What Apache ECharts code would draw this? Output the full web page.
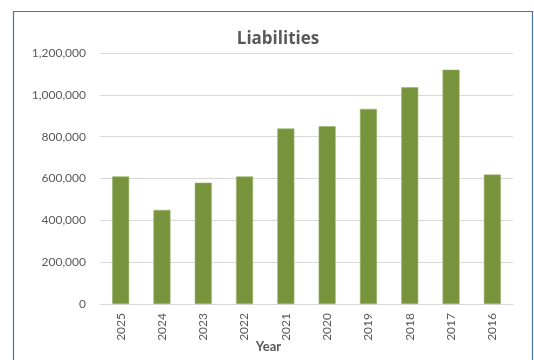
<!DOCTYPE html>
<html>
<head>
<meta charset="utf-8">
<script src="https://cdn.jsdelivr.net/npm/echarts@6/dist/echarts.min.js"></script>
<style>
  html, body { margin: 0; padding: 0; background: #fff; }
  #chart { width: 534px; height: 360px; }
</style>
</head>
<body>
<div id="chart"></div>
<script>
// Liabilities by year
const years = ['2025', '2024', '2023', '2022', '2021', '2020', '2019', '2018', '2017', '2016'];
const liabilities = [610000, 450000, 580000, 610000, 839000, 850000, 933000, 1036000, 1120000, 619000];
const yTicks = { min: 0, max: 1200000, interval: 200000 };

const chart = echarts.init(document.getElementById('chart'), null, { renderer: 'canvas' });
const font = 'Lato, "Open Sans", sans-serif';

chart.setOption({
  animation: false,
  backgroundColor: '#ffffff',
  title: {
    text: 'Liabilities',
    left: 273, top: 26, textAlign: 'center',
    textStyle: { fontFamily: '"Open Sans", sans-serif', fontSize: 17, fontWeight: 'bold', color: '#595959' }
  },
  graphic: [{
    type: 'rect',
    shape: { x: 13.5, y: 11.5, width: 519, height: 360 },
    style: { fill: 'none', stroke: '#4a6ea6', lineWidth: 1.2 },
    silent: true
  }],
  grid: { left: 100, right: 21, top: 53, bottom: 56, containLabel: false, outerBoundsMode: 'none' },
  xAxis: {
    type: 'category',
    data: years,
    name: 'Year',
    nameLocation: 'middle',
    nameGap: 36,
    nameMoveOverlap: false,
    nameTextStyle: {
      fontFamily: font, fontSize: 13, fontWeight: 'bold', color: '#595959',
      padding: [0, 76, 0, 0]
    },
    axisLine: { lineStyle: { color: '#d9d9d9', width: 1 } },
    axisTick: { show: false },
    axisLabel: { rotate: 90, fontFamily: font, fontSize: 12, color: '#595959', margin: 9 }
  },
  yAxis: {
    type: 'value',
    min: yTicks.min, max: yTicks.max, interval: yTicks.interval,
    axisLine: { show: false },
    axisTick: { show: false },
    splitLine: { lineStyle: { color: '#d9d9d9', width: 1 } },
    axisLabel: {
      fontFamily: font, fontSize: 12, color: '#595959', margin: 14,
      formatter: v => v.toLocaleString('en-US')
    }
  },
  series: [{
    type: 'bar',
    data: liabilities,
    barWidth: 17,
    itemStyle: { color: '#77933c', borderColor: '#9bb36a', borderWidth: 0.6 }
  }]
});
</script>
</body>
</html>
